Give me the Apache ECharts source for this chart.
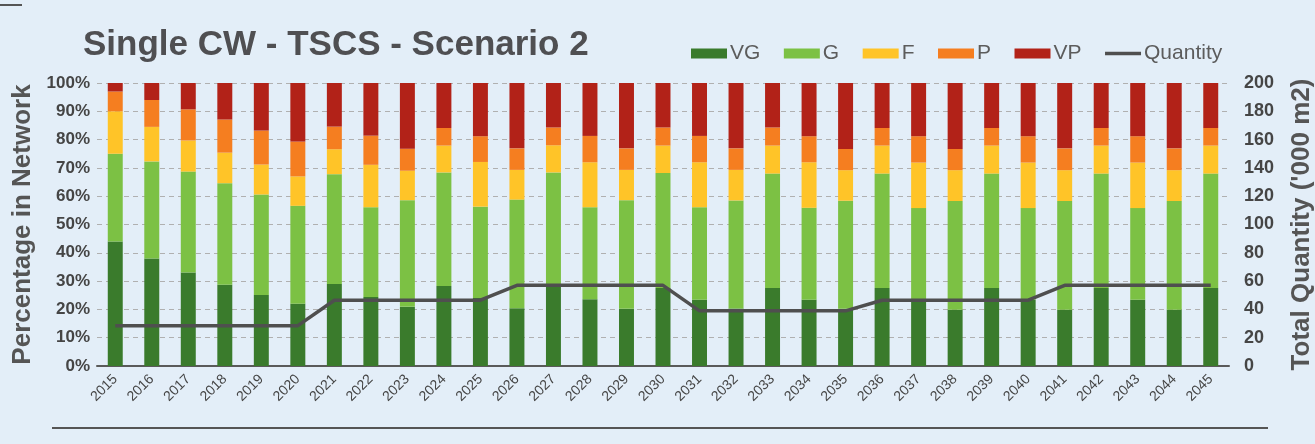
<!DOCTYPE html>
<html>
<head>
  <meta charset="utf-8">
  <title>Single CW - TSCS - Scenario 2</title>
  <script src="https://cdn.jsdelivr.net/npm/echarts@6/dist/echarts.min.js"></script>
</head>
<body style="margin: 0; background: #e3eef8">
  <div id="chart" style="width: 1315px; height: 444px;"></div>
  <script>
    // years on the x axis
    var years = [];
    for (var y = 2015; y <= 2045; y++) years.push(String(y));

    // condition shares, % of network
    var vg = [44, 38, 33, 28.7, 25.1, 22, 29, 24.4, 20.9, 28.3, 24, 20.4, 28.2, 23.6, 20.2, 27.6,
              23.4, 20.3, 27.6, 23.4, 20.2, 27.6, 23, 19.9, 27.6, 23.4, 19.9, 27.6, 23.4, 19.9, 27.6];
    var g  = [31, 34.3, 35.7, 35.9, 35.5, 34.6, 38.8, 31.7, 37.7, 40.1, 32.3, 38.4, 40.2, 32.5, 38.4, 40.6,
              32.7, 38.2, 40.4, 32.5, 38.2, 40.4, 32.8, 38.4, 40.4, 32.4, 38.4, 40.4, 32.4, 38.4, 40.4];
    var f  = [15, 12.2, 11, 10.8, 10.6, 10.4, 8.8, 15, 10.4, 9.5, 15.8, 10.5, 9.6, 15.9, 10.7, 9.7,
              15.9, 10.8, 9.9, 16.1, 10.8, 9.9, 16.1, 10.9, 9.9, 16.1, 10.9, 9.9, 16.1, 10.9, 9.9];
    var p  = [7, 9.5, 11, 11.7, 12, 12.3, 8, 10.3, 7.8, 6.2, 9.1, 7.6, 6.3, 9.3, 7.6, 6.4,
              9.3, 7.6, 6.4, 9.2, 7.5, 6.2, 9.3, 7.5, 6.2, 9.3, 7.7, 6.2, 9.3, 7.7, 6.2];
    var vp = [3, 6, 9.3, 12.9, 16.8, 20.7, 15.4, 18.6, 23.2, 15.9, 18.8, 23.1, 15.7, 18.7, 23.1, 15.7,
              18.7, 23.1, 15.7, 18.8, 23.3, 15.9, 18.8, 23.3, 15.9, 18.8, 23.1, 15.9, 18.8, 23.1, 15.9];

    // total quantity ('000 m2)
    var quantity = [28.5, 28.5, 28.5, 28.5, 28.5, 28.5, 46.5, 46.5, 46.5, 46.5, 46.5,
                    57, 57, 57, 57, 57, 39, 39, 39, 39, 39, 46.5, 46.5, 46.5, 46.5, 46.5,
                    57, 57, 57, 57, 57];

    var font = 'Liberation Sans';
    var textGrey = '#454545';

    function barSeries(name, data, color) {
      return {
        name: name,
        type: 'bar',
        stack: 'cond',
        barWidth: '41%',
        itemStyle: { color: color },
        data: data
      };
    }

    var chart = echarts.init(document.getElementById('chart'));
    var option = {
      backgroundColor: '#e3eef8',
      animation: false,
      textStyle: { fontFamily: font },
      title: {
        text: 'Single CW - TSCS - Scenario 2',
        left: 78,
        top: 23,
        textStyle: { fontSize: 35, fontWeight: 'bold', color: '#4f4f52', fontFamily: font }
      },
      legend: {
        left: 686,
        top: 38,
        itemWidth: 36,
        itemHeight: 10,
        itemGap: 23.5,
        textStyle: { fontSize: 21, color: '#5c5c5c', padding: [0, 0, 0, -2] },
        data: [
          { name: 'VG', icon: 'rect' },
          { name: 'G', icon: 'rect' },
          { name: 'F', icon: 'rect' },
          { name: 'P', icon: 'rect' },
          { name: 'VP', icon: 'rect' },
          { name: 'Quantity', icon: 'path://M0,0 L36,0 L36,3.5 L0,3.5 Z' }
        ]
      },
      grid: { left: 97, right: 86, top: 83, bottom: 78, outerBoundsMode: 'none' },
      xAxis: {
        type: 'category',
        data: years,
        axisLine: { lineStyle: { color: '#5a5a5a', width: 2 } },
        axisTick: { show: false },
        axisLabel: { rotate: 45, fontSize: 14, color: textGrey, margin: 11, interval: 0 }
      },
      yAxis: [
        {
          type: 'value',
          min: 0, max: 100, interval: 10,
          name: 'Percentage in Network',
          nameLocation: 'middle',
          nameRotate: 90,
          nameGap: 60,
          nameTextStyle: { fontSize: 26, fontWeight: 'bold', color: '#555' },
          axisLine: { show: false },
          axisTick: { show: false },
          axisLabel: { formatter: '{value}%', fontSize: 17, fontWeight: 'bold', color: textGrey, margin: 7 },
          splitLine: { lineStyle: { color: '#b0b0b0', type: [5, 4], width: 1 } }
        },
        {
          type: 'value',
          min: 0, max: 200, interval: 20,
          name: "Total Quantity ('000 m2)",
          nameLocation: 'middle',
          nameRotate: 90,
          nameGap: 60,
          nameTextStyle: { fontSize: 26, fontWeight: 'bold', color: '#555' },
          axisLine: { show: false },
          axisTick: { show: false },
          axisLabel: { fontSize: 18, fontWeight: 'bold', color: textGrey, margin: 15 },
          splitLine: { show: false }
        }
      ],
      series: [
        barSeries('VG', vg, '#3a7b2c'),
        barSeries('G', g, '#7cc144'),
        barSeries('F', f, '#ffc428'),
        barSeries('P', p, '#f57e20'),
        barSeries('VP', vp, '#b22218'),
        {
          name: 'Quantity',
          type: 'line',
          yAxisIndex: 1,
          symbol: 'none',
          z: 5,
          lineStyle: { color: '#4f4f4f', width: 3.5 },
          itemStyle: { color: '#4f4f4f' },
          data: quantity
        }
      ],
      graphic: [
        { type: 'line', shape: { x1: 0, y1: 5, x2: 22, y2: 5 }, style: { stroke: '#555', lineWidth: 2 } },
        { type: 'line', shape: { x1: 52, y1: 428, x2: 1268, y2: 428 }, style: { stroke: '#555', lineWidth: 2 } }
      ]
    };
    chart.setOption(option);
  </script>
</body>
</html>
